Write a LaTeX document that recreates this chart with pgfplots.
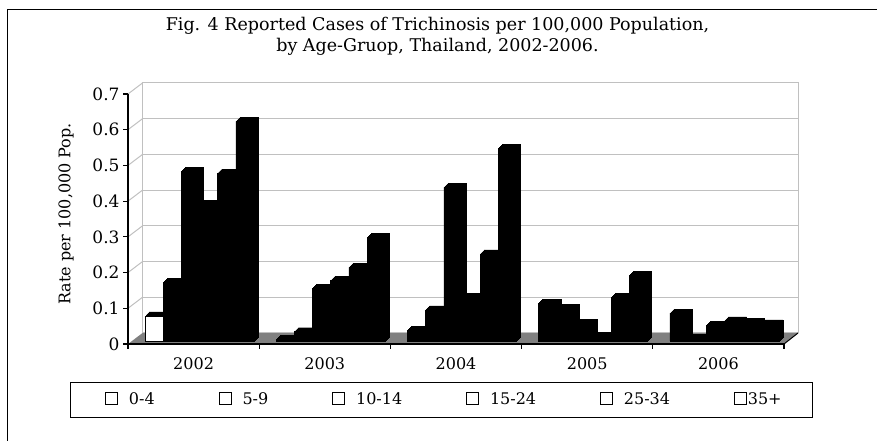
\documentclass[border=0pt]{standalone}
\usepackage{fontspec}
\setmainfont{DejaVu Serif}
\usepackage{pgfplots}
\pgfplotsset{compat=1.18}
\usepackage{pgfplotstable}

% values per age group, categories 0..4 = 2002..2006
\pgfplotstableread{
x y
0 0.070
1 0.005
2 0.030
3 0.105
4 0.078
}\sA
\pgfplotstableread{
x y
1 0.005
2 0.030
3 0.105
4 0.078
}\sAblack
\pgfplotstableread{
x y
0 0.070
}\sAwhite
\pgfplotstableread{
x y
0 0.165
1 0.026
2 0.087
3 0.092
4 0.008
}\sB
\pgfplotstableread{
x y
0 0.475
1 0.148
2 0.430
3 0.050
4 0.043
}\sC
\pgfplotstableread{
x y
0 0.382
1 0.169
2 0.122
3 0.013
4 0.056
}\sD
\pgfplotstableread{
x y
0 0.470
1 0.206
2 0.244
3 0.122
4 0.052
}\sE
\pgfplotstableread{
x y
0 0.615
1 0.291
2 0.540
3 0.183
4 0.048
}\sF

\definecolor{wallc}{HTML}{C0C0C0}
\definecolor{floorc}{HTML}{808080}

\pgfplotsset{
  bk/.style={ybar, bar width=0.1385, fill=black, draw=black, line width=0.4bp, forget plot},
  fr/.style={ybar, bar width=0.1385, fill=black, draw=black, line width=0.5bp, yshift=3bp,
    legend image code/.code={\draw[black,fill=white,line width=0.8bp] (0bp,-8bp) rectangle (12bp,4bp);}},
}
\newcommand\backs[2]{%
  \addplot[bk, bar shift=#1, xshift=1bp, yshift=4bp] table[x=x,y=y] {#2};
  \addplot[bk, bar shift=#1, xshift=2bp, yshift=5bp] table[x=x,y=y] {#2};
  \addplot[bk, bar shift=#1, xshift=3bp, yshift=6bp] table[x=x,y=y] {#2};
  \addplot[bk, bar shift=#1, xshift=4bp, yshift=7bp] table[x=x,y=y] {#2};
}
\newcommand\fs{\fontsize{16bp}{19bp}\selectfont}

\begin{document}
\begin{tikzpicture}[x=1bp,y=1bp]
\path[use as bounding box] (0,0) rectangle (877,441);
% outer frame
\draw[line width=1bp] (7,0) -- (7,431) -- (877,431);
% title
\node[align=center, font=\fontsize{17.5bp}{21bp}\selectfont] at (437.5,404.5)
  {Fig. 4 Reported Cases of Trichinosis per 100,000 Population,\\by Age-Gruop, Thailand, 2002-2006.};
% walls and floor
\fill[floorc] (128,97) -- (784,97) -- (798,108) -- (142.5,108) -- cycle;
\draw[wallc, line width=1bp] (142.5,108) rectangle (798,358);
\foreach \v in {1,...,6} {\draw[wallc, line width=1bp] (142.5,108+35.714*\v) -- (798,108+35.714*\v);}
\foreach \v in {1,...,7} {\draw[wallc, line width=1bp] (128,97+35.714*\v) -- (142.5,108+35.714*\v);}
\draw[black, line width=1bp] (784,97) -- (798,108);
% legend frame
\draw[line width=1bp] (70,23) rectangle (812,58);

\begin{axis}[
  at={(128bp,97bp)}, anchor=south west, scale only axis,
  width=656bp, height=250bp,
  xmin=-0.5, xmax=4.5, ymin=0, ymax=0.7,
  clip=false,
  axis x line*=bottom, axis y line*=left,
  axis line style={black, line width=1.5bp},
  tick align=outside, major tick length=5bp,
  tick style={black, line width=1.2bp},
  ytick={0,0.1,0.2,0.3,0.4,0.5,0.6,0.7},
  yticklabels={0,0.1,0.2,0.3,0.4,0.5,0.6,0.7},
  yticklabel style={font=\fontsize{17bp}{19bp}\selectfont},
  xtick={-0.5,0.5,1.5,2.5,3.5,4.5},
  xticklabels={},
  extra x ticks={0,1,2,3,4},
  extra x tick labels={2002,2003,2004,2005,2006},
  extra x tick style={major tick length=0pt, tick style={draw=none}, xticklabel style={yshift=-10bp}},
  xticklabel style={font=\fs},
  ylabel={Rate per 100,000 Pop.},
  every axis y label/.style={at={(axis description cs:-0.0945,0.52)}, rotate=90, anchor=center, font=\fs},
  legend columns=6,
  legend style={draw=none, fill=none, at={(axis description cs:-0.0351,-0.22)}, anchor=west,
    inner sep=0pt, nodes={inner sep=0pt, font=\fs},
    /tikz/every odd column/.append style={column sep=11bp},
    /tikz/every even column/.append style={column sep=64bp}},
]
\backs{-0.301}{\sA}
\backs{-0.1625}{\sB}
\backs{-0.024}{\sC}
\backs{0.1145}{\sD}
\backs{0.253}{\sE}
\backs{0.3915}{\sF}

\addplot[fr, bar shift=-0.301] table[x=x,y=y] {\sAblack};
\addlegendentry{0-4}
\addplot[fr, bar shift=-0.301, fill=white, draw=black, forget plot] table[x=x,y=y] {\sAwhite};
\addplot[fr, bar shift=-0.1625] table[x=x,y=y] {\sB};
\addlegendentry{5-9}
\addplot[fr, bar shift=-0.024] table[x=x,y=y] {\sC};
\addlegendentry{10-14}
\addplot[fr, bar shift=0.1145] table[x=x,y=y] {\sD};
\addlegendentry{15-24}
\addplot[fr, bar shift=0.253] table[x=x,y=y] {\sE};
\addlegendentry{25-34}
\addplot[fr, bar shift=0.3915] table[x=x,y=y] {\sF};
\addlegendentry{\hspace{-10bp}35+}
\end{axis}
\end{tikzpicture}
\end{document}
